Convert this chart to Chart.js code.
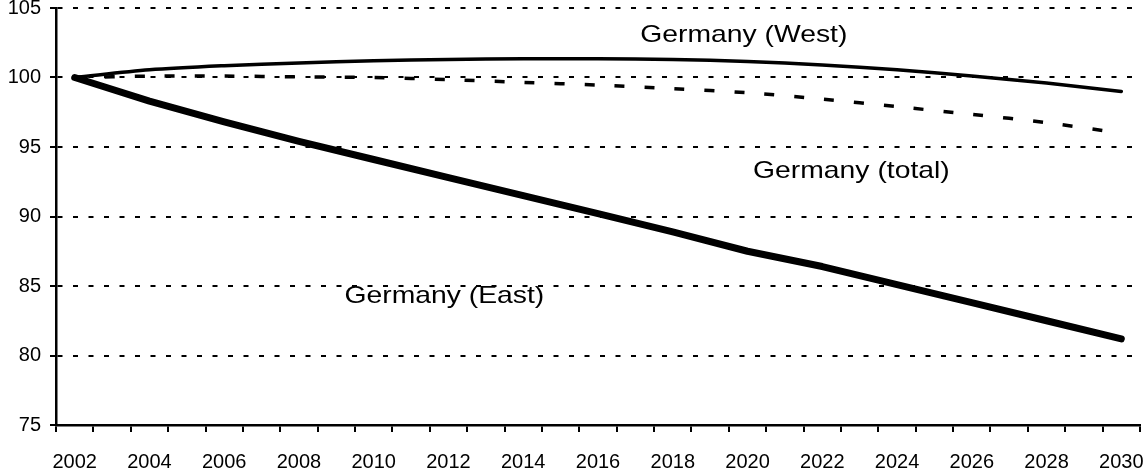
<!DOCTYPE html>
<html>
<head>
<meta charset="utf-8">
<script src="https://cdn.jsdelivr.net/npm/chart.js@4/dist/chart.umd.min.js"></script>
<style>
  html, body { margin: 0; padding: 0; background: #fff; }
  #wrap { width: 1144px; height: 472px; position: relative; }
</style>
</head>
<body>
<div id="wrap"><canvas id="c"></canvas></div>
<script>
// Categories: every year 2002..2030
const years = [];
for (let y = 2002; y <= 2030; y++) years.push(String(y));

// Values at even years (odd years left empty)
const west  = [100, null, 100.55, null, 100.85, null, 101.05, null, 101.2, null, 101.3, null, 101.35, null, 101.35, null, 101.3, null, 101.15, null, 100.9, null, 100.55, null, 100.1, null, 99.6, null, 99.0];
const total = [100, null, 100.1, null, 100.1, null, 100.05, null, 100.0, null, 99.85, null, 99.65, null, 99.45, null, 99.2, null, 98.9, null, 98.45, null, 97.9, null, 97.35, null, 96.75, null, 96.0];
const east  = [100, null, 98.3, null, 96.8, null, 95.4, null, 94.1, null, 92.8, null, 91.5, null, 90.2, null, 88.9, null, 87.5, null, 86.4, null, 85.1, null, 83.8, null, 82.5, null, 81.2];

const yTicks = [75, 80, 85, 90, 95, 100, 105];

// Series labels placed in data space (category index, value)
const seriesLabels = ['Germany (West)', 'Germany (total)', 'Germany (East)'];
const labelX = [17.9, 20.78, 9.89];
const labelY = [103.06, 93.27, 84.28];

const FONT = '"Liberation Sans", Arial, sans-serif';

const labelPlugin = {
  id: 'seriesLabels',
  afterDatasetsDraw(chart) {
    const ctx = chart.ctx;
    const xs = chart.scales.x, ys = chart.scales.y;
    ctx.save();
    ctx.fillStyle = '#000';
    ctx.font = '24px ' + FONT;
    ctx.textAlign = 'center';
    ctx.textBaseline = 'middle';
    seriesLabels.forEach((t, i) => {
      const px = xs.getPixelForValue(labelX[i]);
      const py = ys.getPixelForValue(labelY[i]);
      ctx.save();
      ctx.translate(px, py);
      ctx.scale(1.18, 1);
      ctx.fillText(t, 0, 0);
      ctx.restore();
    });
    ctx.restore();
  }
};

new Chart(document.getElementById('c'), {
  type: 'line',
  data: {
    labels: years,
    datasets: [
      { label: 'Germany (West)', data: west, borderColor: '#000', borderWidth: 3.5, pointRadius: 0, tension: 0.3, spanGaps: true, borderCapStyle: 'round', borderJoinStyle: 'round' },
      { label: 'Germany (total)', data: total, borderColor: '#000', borderWidth: 3.5, borderDash: [10, 20], pointRadius: 0, tension: 0.3, spanGaps: true, borderCapStyle: 'butt' },
      { label: 'Germany (East)', data: east, borderColor: '#000', borderWidth: 7, pointRadius: 0, tension: 0, spanGaps: true, borderCapStyle: 'round', borderJoinStyle: 'round' }
    ]
  },
  options: {
    responsive: true,
    maintainAspectRatio: false,
    animation: false,
    devicePixelRatio: 1,
    layout: { padding: { top: 8, right: 4, left: 0, bottom: 0 } },
    plugins: { legend: { display: false }, tooltip: { enabled: false } },
    scales: {
      x: {
        type: 'category',
        offset: true,
        grid: { offset: true, drawOnChartArea: false, drawTicks: true, tickLength: 7, color: '#000', lineWidth: 2 },
        border: { display: true, color: '#000', width: 2.5 },
        ticks: {
          autoSkip: false, maxRotation: 0, minRotation: 0, padding: 18, color: '#000',
          font: { family: FONT, size: 20 },
          callback: function (v, i) { return i % 2 === 0 ? this.getLabelForValue(v) : ''; }
        },
        afterFit: (s) => { s.height = 47; s.paddingLeft = 0; s.paddingRight = 0; }
      },
      y: {
        min: 75, max: 105,
        afterBuildTicks: (s) => { s.ticks = yTicks.map(v => ({ value: v })); },
        grid: {
          color: (c) => (c.tick && c.tick.value === 75) ? 'rgba(0,0,0,0)' : '#000',
          tickColor: '#000', lineWidth: 2, tickBorderDash: [],
          drawTicks: true, tickLength: 6
        },
        border: { display: true, color: '#000', width: 2.5, dash: [5, 10.5] },
        ticks: { padding: 9, color: '#000', font: { family: FONT, size: 20 } },
        afterFit: (s) => { s.width = 56; s.paddingTop = 0; s.paddingBottom = 0; }
      }
    }
  },
  plugins: [labelPlugin]
});
</script>
</body>
</html>
